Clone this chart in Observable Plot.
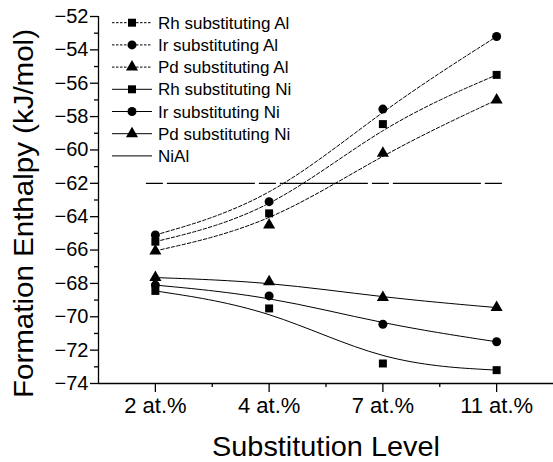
<!DOCTYPE html>
<html><head><meta charset="utf-8">
<script src="https://cdn.jsdelivr.net/npm/d3@7"></script>
<script src="https://cdn.jsdelivr.net/npm/@observablehq/plot@0.6"></script>
<style>body{margin:0;background:#fff} svg{display:block}</style>
</head><body><div id="chart"></div>
<script>
// ---- data ----
const levels = ["2 at.%", "4 at.%", "7 at.%", "11 at.%"];
const rhAl = [-65.5, -63.8, -58.45, -55.5];
const irAl = [-65.1, -63.1, -57.55, -53.2];
const pdAl = [-66.05, -64.5, -60.2, -57.0];
const rhNi = [-68.45, -69.5, -72.8, -73.2];
const irNi = [-68.1, -68.75, -70.45, -71.5];
const pdNi = [-67.65, -67.9, -68.85, -69.45];
const nialValue = -62;
const seriesNames = ["Rh substituting Al", "Ir substituting Al", "Pd substituting Al",
                     "Rh substituting Ni", "Ir substituting Ni", "Pd substituting Ni"];
const seriesMetal = ["Rh", "Ir", "Pd", "Rh", "Ir", "Pd"];
const seriesSite = ["Al", "Al", "Al", "Ni", "Ni", "Ni"];
const seriesValues = [rhAl, irAl, pdAl, rhNi, irNi, pdNi];
const yTicks = d3.range(-74, -51, 2);
const yMinor = d3.range(-73, -52, 2);
const xMinor = [0.5, 1.5, 2.5];
const yLabel = "Formation Enthalpy (kJ/mol)";
const xLabel = "Substitution Level";

const rows = seriesNames.flatMap((name, s) =>
  seriesValues[s].map((v, i) => ({name, metal: seriesMetal[s], site: seriesSite[s], i, v})));

const FONT = "'Liberation Sans', Arial, Helvetica, sans-serif";
const R = 4.5;

const plot = Plot.plot({
  width: 553, height: 462,
  marginLeft: 98, marginRight: 0, marginTop: 16, marginBottom: 79,
  style: {fontFamily: FONT, background: "#fff", color: "#000"},
  x: {type: "linear", domain: [-0.5, levels.length - 0.5]},
  y: {domain: [-74, -52]},
  symbol: {domain: ["Rh", "Ir", "Pd"], range: ["square", "circle", "triangle"]},
  marks: [
    Plot.ruleY([nialValue], {x1: 0, x2: levels.length - 1, insetLeft: -9, insetRight: -8,
      stroke: "#000", strokeWidth: 1.3, strokeDasharray: "17,4,88,4"}),
    Plot.line(rows.filter(d => d.site === "Al"), {x: "i", y: "v", z: "name", curve: "basis",
      stroke: "#000", strokeWidth: 1, strokeDasharray: "3.5,2"}),
    Plot.line(rows.filter(d => d.site === "Ni"), {x: "i", y: "v", z: "name", curve: "basis",
      stroke: "#000", strokeWidth: 1}),
    Plot.dot(rows, {x: "i", y: "v", symbol: "metal", fill: "#000", stroke: "none", r: R}),
    Plot.axisY(yTicks, {tickSize: 8, tickPadding: 2, fontSize: 20, label: null, strokeWidth: 1.3}),
    Plot.axisY(yMinor, {tickSize: 4, tickFormat: () => "", label: null, strokeWidth: 1.3}),
    Plot.axisX(d3.range(levels.length), {tickSize: 9, tickPadding: 5, fontSize: 22, label: null,
      tickFormat: i => levels[i], strokeWidth: 1.3}),
    Plot.axisX(xMinor, {tickSize: 4, tickFormat: () => "", label: null, strokeWidth: 1.3}),
    Plot.ruleX([-0.5], {stroke: "#000", strokeWidth: 1.3}),
    Plot.ruleY([-74], {stroke: "#000", strokeWidth: 1.3})
  ]
});
document.getElementById("chart").appendChild(plot);

// ---- legend & titles ----
const svg = d3.select(plot);
const symMap = {Rh: d3.symbolSquare, Ir: d3.symbolCircle, Pd: d3.symbolTriangle};
const lg = svg.append("g").attr("font-family", FONT).attr("font-size", 17).attr("fill", "#000")
  .attr("text-anchor", "start");
const entries = seriesNames.map((n, s) => ({name: n, metal: seriesMetal[s], site: seriesSite[s]}))
  .concat([{name: "NiAl", metal: null, site: "NiAl"}]);
entries.forEach((e, k) => {
  const y = 22.7 + k * 22.2;
  lg.append("line").attr("x1", 112).attr("x2", 152).attr("y1", y).attr("y2", y)
    .attr("stroke", "#000").attr("stroke-width", 1)
    .attr("stroke-dasharray", e.site === "Al" ? "2.5,1.5" : null);
  if (e.metal) lg.append("path").attr("d", d3.symbol(symMap[e.metal], Math.PI * R * R)())
    .attr("transform", `translate(132,${y})`).attr("fill", "#000");
  lg.append("text").attr("x", 158).attr("y", y).attr("dy", "0.36em")
    .attr("text-anchor", "start").text(e.name);
});
svg.append("text").attr("font-family", FONT).attr("font-size", 28).attr("fill", "#000")
  .attr("text-anchor", "middle").attr("transform", "translate(33,213.5) rotate(-90)")
  .attr("textLength", 369).attr("lengthAdjust", "spacingAndGlyphs").text(yLabel);
svg.append("text").attr("font-family", FONT).attr("font-size", 28).attr("fill", "#000")
  .attr("text-anchor", "middle").attr("x", 326).attr("y", 456)
  .attr("textLength", 228).attr("lengthAdjust", "spacingAndGlyphs").text(xLabel);
</script>
</body></html>
